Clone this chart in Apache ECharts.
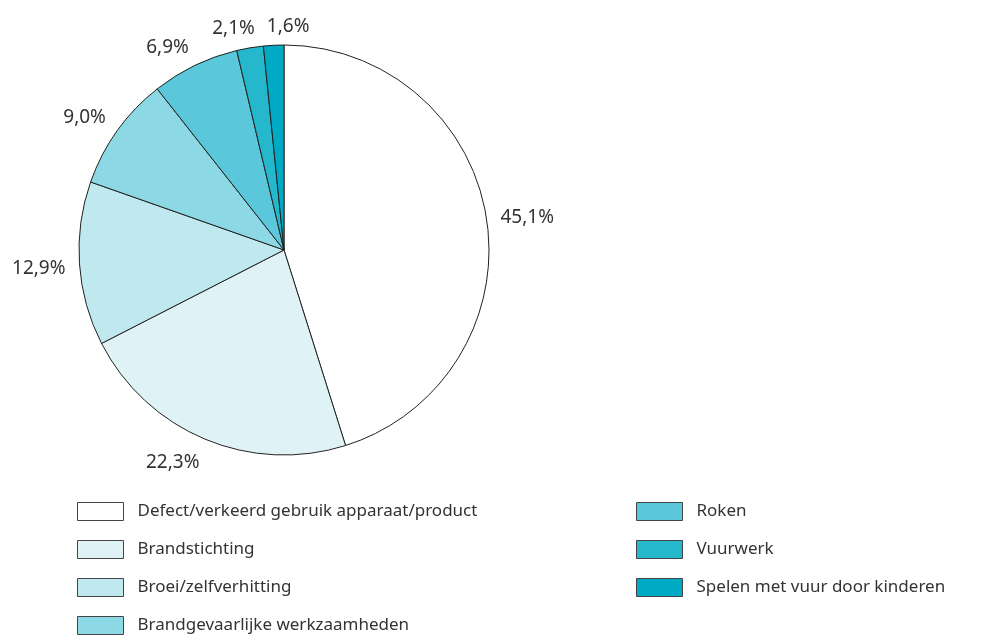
<!DOCTYPE html>
<html>
<head>
<meta charset="utf-8">
<script src="https://cdn.jsdelivr.net/npm/echarts@6/dist/echarts.min.js"></script>
<style>
  html, body { margin: 0; padding: 0; background: #fff; }
  #chart { width: 981px; height: 642px; }
</style>
</head>
<body>
<div id="chart"></div>
<script>
// oorzaken van branden (aandeel in %)
var categories = [
  'Defect/verkeerd gebruik apparaat/product',
  'Brandstichting',
  'Broei/zelfverhitting',
  'Brandgevaarlijke werkzaamheden',
  'Roken',
  'Vuurwerk',
  'Spelen met vuur door kinderen'
];
var values = [45.1, 22.3, 12.9, 9.0, 6.9, 2.1, 1.6];
var colors = ['#ffffff', '#dff3f7', '#c0e9ef', '#8dd8e5', '#5ac8da', '#25b7cc', '#00aac4'];

var CX = 284, CY = 250, R = 205, GAP = 14;
var LABEL_FONT = 19;

var total = values.reduce(function (a, b) { return a + b; }, 0);

function fmt(v) {
  return v.toFixed(1).replace('.', ',') + '%';
}
function clamp(v) { return Math.max(-1, Math.min(1, v)); }

// labels buiten de taart: hoek van het label op de straal door het midden van de sector
var ctx = document.createElement('canvas').getContext('2d');
ctx.font = LABEL_FONT + 'px "Noto Sans"';
var labelPos = [];
var before = 0;
values.forEach(function (v, i) {
  var mid = (before + v / 2) / total * Math.PI * 2;
  before += v;
  var dx = Math.sin(mid), dy = -Math.cos(mid);
  var w = ctx.measureText(fmt(v)).width;
  var h = 16;
  var d = R + GAP;
  labelPos.push({
    x: CX + dx * d + clamp(dx * 4) * w / 2,
    y: CY + dy * d + clamp(dy * 2) * h / 2 + 3,
    w: w, h: h
  });
});
// overlap bovenaan: volgende label naar rechts schuiven
for (var i = 1; i < labelPos.length; i++) {
  var a = labelPos[i - 1], b = labelPos[i];
  if (Math.abs(a.y - b.y) > a.h) continue;
  var o = (a.x + a.w / 2 + 12) - (b.x - b.w / 2);
  if (o > 0) b.x += o;
}

var chart = echarts.init(document.getElementById('chart'), null, { renderer: 'canvas' });

var legendBase = {
  orient: 'vertical',
  top: 497,
  height: 140,
  icon: 'rect',
  itemWidth: 46,
  itemHeight: 18,
  itemGap: 19,
  selectedMode: false,
  itemStyle: { borderColor: '#444', borderWidth: 1 },
  textStyle: { fontSize: 17, color: '#333', padding: [0, 0, 0, 9] }
};

var option = {
  animation: false,
  backgroundColor: '#ffffff',
  textStyle: { fontFamily: 'Noto Sans' },
  legend: [
    Object.assign({ data: categories.slice(0, 4), left: 72 }, legendBase),
    Object.assign({ data: categories.slice(4), left: 631 }, legendBase)
  ],
  series: [{
    type: 'pie',
    center: [CX, CY],
    radius: [0, R],
    startAngle: 90,
    clockwise: true,
    silent: true,
    avoidLabelOverlap: false,
    itemStyle: { borderColor: '#222', borderWidth: 1 },
    label: {
      show: true,
      position: 'outside',
      fontSize: LABEL_FONT,
      color: '#333',
      formatter: function (p) { return fmt(p.value); }
    },
    labelLine: { show: false },
    labelLayout: function (params) {
      var p = labelPos[params.dataIndex];
      return { x: p.x, y: p.y, align: 'center', verticalAlign: 'middle' };
    },
    data: categories.map(function (name, i) {
      return { name: name, value: values[i], itemStyle: { color: colors[i] } };
    })
  }]
};

chart.setOption(option);
</script>
</body>
</html>
